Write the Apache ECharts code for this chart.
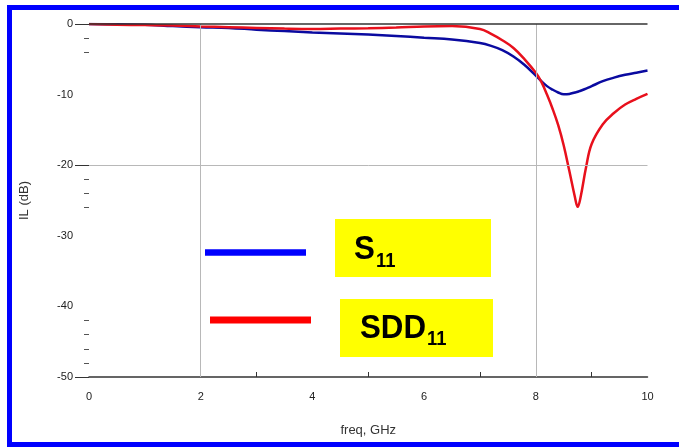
<!DOCTYPE html>
<html>
<head>
<meta charset="utf-8">
<script src="https://cdn.jsdelivr.net/npm/echarts@6/dist/echarts.min.js"></script>
<style>
  html, body { margin: 0; padding: 0; background: #fff; }
  #chart { position: absolute; left: 0; top: 0; width: 679px; height: 447px; }
  .frame {
    position: absolute; left: 7px; top: 5px; width: 700px; height: 442px;
    box-sizing: border-box; border: 5px solid #0000ff; border-right: none;
    pointer-events: none;
  }
</style>
</head>
<body>
<div id="chart"></div>
<div class="frame"></div>
<script>
// frequency points, GHz
const freq = [0, 0.5, 1, 1.5, 2, 2.5, 3, 3.5, 4, 4.5, 5, 5.5, 6, 6.5, 7, 7.2, 7.4, 7.6, 7.8, 8,
  8.1, 8.2, 8.3, 8.4, 8.5, 8.6, 8.7, 8.75, 8.8, 8.9, 9, 9.2, 9.4, 9.6, 9.8, 10];
// S11, dB
const s11 = [0, -0.05, -0.1, -0.3, -0.45, -0.55, -0.8, -1.0, -1.2, -1.35, -1.5, -1.7, -1.95, -2.2, -2.7,
  -3.1, -3.7, -4.6, -5.8, -7.3, -8.1, -8.8, -9.3, -9.7, -9.95, -9.9, -9.7, -9.6, -9.45, -9.15, -8.8,
  -8.1, -7.6, -7.2, -6.9, -6.6];
// SDD11, dB
const sdd11 = [0, -0.1, -0.15, -0.2, -0.35, -0.45, -0.55, -0.65, -0.7, -0.65, -0.6, -0.5, -0.35, -0.3, -0.7,
  -1.4, -2.3, -3.4, -5.0, -6.9, -8.2, -10.0, -12.0, -14.3, -17.2, -20.8, -24.5, -25.9, -24.6, -20.3, -17.0,
  -14.2, -12.6, -11.4, -10.6, -9.9];

const xTicks = [2, 3, 5, 7, 8, 9];
const yTicks = [0, -20, -50];
const yMinorDashes = [-2, -4, -22, -24, -26, -42, -44, -46, -48];
const gridX = [2, 8];
const gridY = [-20];

const pairs = (ys) => freq.map((f, i) => [f, ys[i]]);
const font = 'Liberation Sans, Arial, sans-serif';

// legend label, a bit narrow like the scanned original
const label = (text, x, y, size) => ({
  type: 'text', x: x, y: y, scaleX: 0.92,
  style: { text: text, font: 'bold ' + size + 'px ' + font, fill: '#000', verticalAlign: 'middle' }
});

const chart = echarts.init(document.getElementById('chart'));
chart.setOption({
  backgroundColor: '#fff',
  animation: false,
  grid: { left: 89, right: 31.5, top: 24, bottom: 70 },
  xAxis: {
    type: 'value', min: 0, max: 10, interval: 2,
    name: 'freq, GHz', nameLocation: 'middle', nameGap: 47,
    nameTextStyle: { fontFamily: font, fontSize: 13, color: '#333' },
    axisLine: { onZero: false, lineStyle: { color: '#333', width: 1.5 } },
    axisTick: { inside: true, length: 5, customValues: xTicks, lineStyle: { color: '#333' } },
    axisLabel: { margin: 14, fontFamily: font, fontSize: 11, color: '#222' },
    splitLine: { show: false }
  },
  yAxis: [{
    type: 'value', min: -50, max: 0, interval: 10,
    name: 'IL (dB)', nameLocation: 'middle', nameGap: 58,
    nameTextStyle: { fontFamily: font, fontSize: 13, color: '#333' },
    axisLine: { show: false },
    axisTick: { show: true, length: 14, customValues: yTicks, lineStyle: { color: '#333' } },
    axisLabel: { margin: 16, fontFamily: font, fontSize: 11, color: '#222' },
    splitLine: { show: false }
  }, {
    type: 'value', min: -50, max: 0, interval: 2, position: 'left',
    axisLine: { show: false },
    axisTick: { show: true, length: 5, customValues: yMinorDashes, lineStyle: { color: '#555' } },
    axisLabel: { show: false },
    splitLine: { show: false }
  }],
  series: [
    {
      type: 'line', data: [], z: 1, silent: true,
      markLine: {
        silent: true, symbol: 'none', label: { show: false },
        lineStyle: { color: '#b8b8b8', width: 1, type: 'solid' },
        data: gridX.map(v => ({ xAxis: v })).concat(gridY.map(v => ({ yAxis: v })))
          .concat([{ yAxis: 0, lineStyle: { color: '#333', width: 1.5 } }])
      }
    },
    {
      name: 'S11', type: 'line', data: pairs(s11), z: 3,
      smooth: 0.4, showSymbol: false,
      lineStyle: { color: '#0a0aa0', width: 2.5 }
    },
    {
      name: 'SDD11', type: 'line', data: pairs(sdd11), z: 4,
      smooth: 0.4, showSymbol: false,
      lineStyle: { color: '#e8101c', width: 2.5 }
    }
  ],
  graphic: [
    { type: 'line', shape: { x1: 205, y1: 252.5, x2: 306, y2: 252.5 }, style: { stroke: '#0000ff', lineWidth: 6.5 } },
    { type: 'line', shape: { x1: 210, y1: 320, x2: 311, y2: 320 }, style: { stroke: '#ff0000', lineWidth: 7 } },
    { type: 'rect', shape: { x: 335, y: 219, width: 156, height: 58 }, style: { fill: '#ffff00' } },
    { type: 'rect', shape: { x: 340, y: 299, width: 153, height: 58 }, style: { fill: '#ffff00' } },
    label('S', 354, 250, 34),
    label('11', 376, 261, 20),
    label('SDD', 360, 329, 34),
    label('11', 427, 339.5, 20)
  ]
});
</script>
</body>
</html>
